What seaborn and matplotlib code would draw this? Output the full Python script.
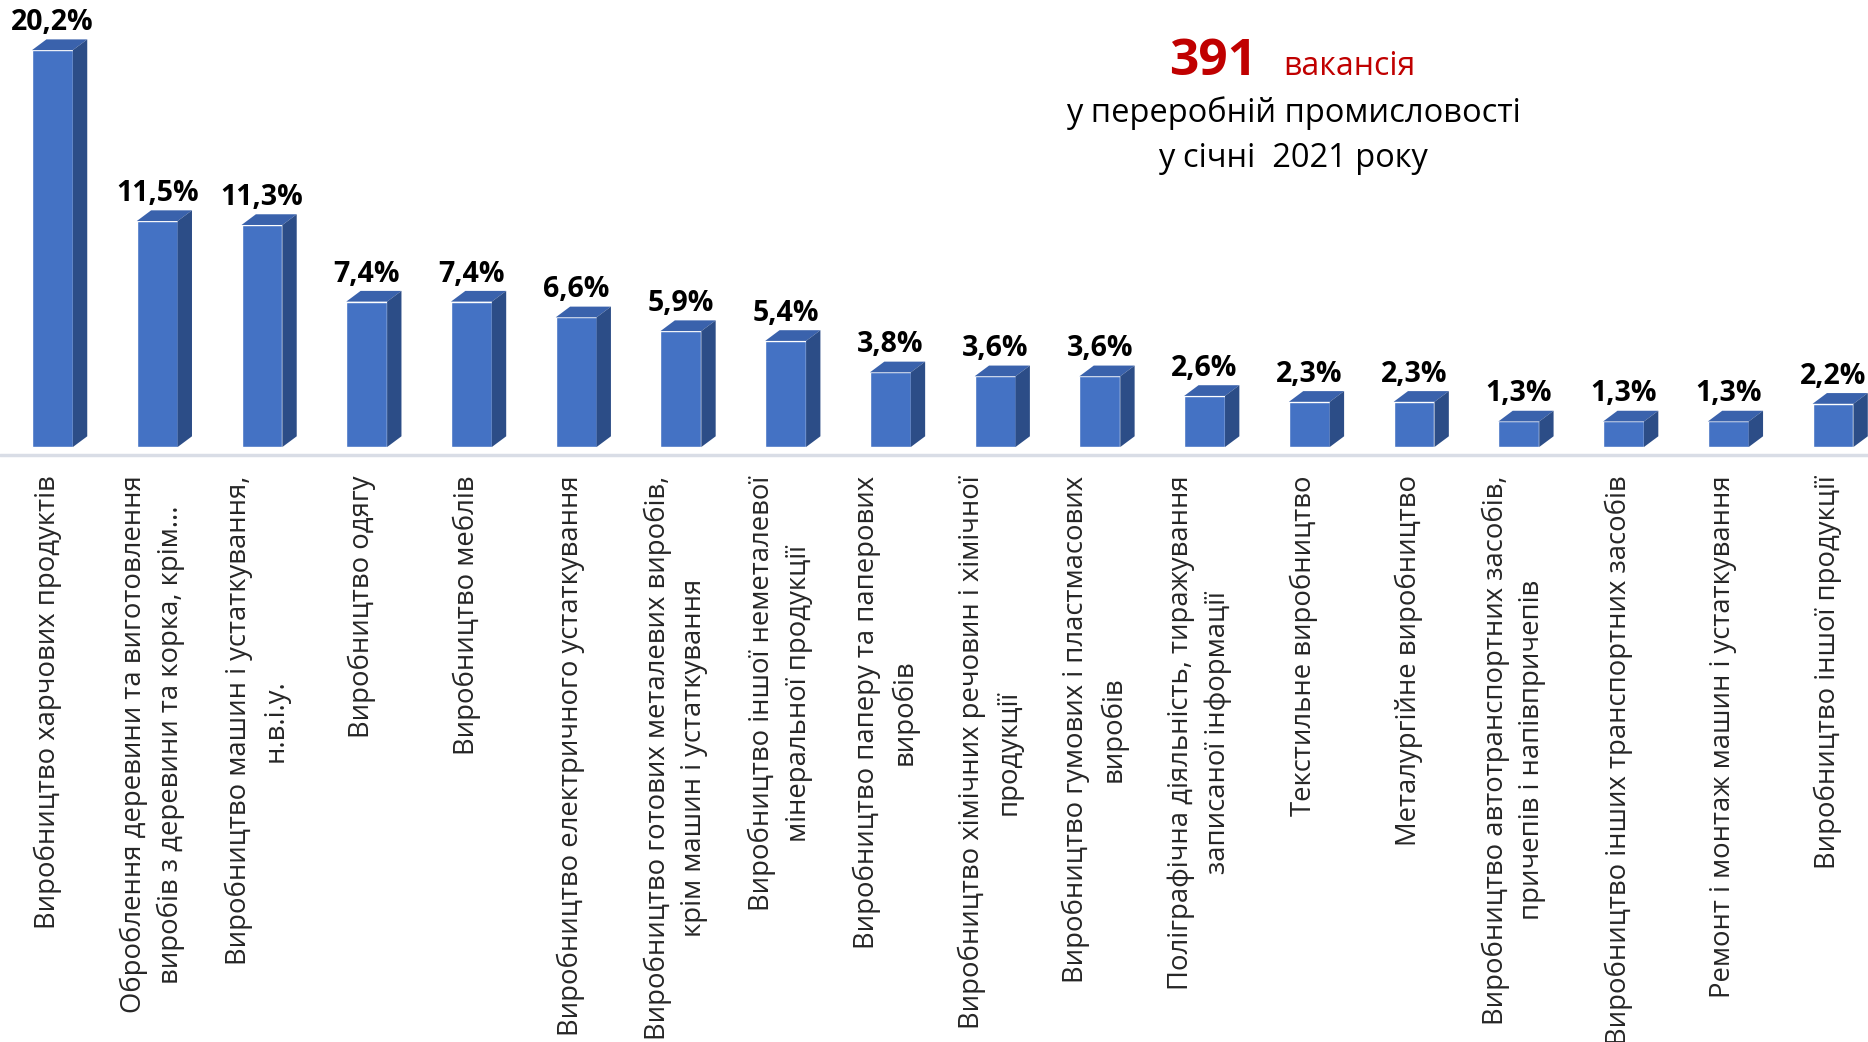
import matplotlib
matplotlib.use("Agg")
import matplotlib.pyplot as plt
import matplotlib.transforms as mtransforms
from matplotlib.patches import Polygon
import seaborn as sns
import pandas as pd

categories = [
    "Виробництво харчових продуктів",
    "Оброблення деревини та виготовлення\nвиробів з деревини та корка, крім...",
    "Виробництво машин і устаткування,\nн.в.і.у.",
    "Виробництво одягу",
    "Виробництво меблів",
    "Виробництво електричного устаткування",
    "Виробництво готових металевих виробів,\nкрім машин і устаткування",
    "Виробництво іншої неметалевої\nмінеральної продукції",
    "Виробництво паперу та паперових\nвиробів",
    "Виробництво хімічних речовин і хімічної\nпродукції",
    "Виробництво гумових і пластмасових\nвиробів",
    "Поліграфічна діяльність, тиражування\nзаписаної інформації",
    "Текстильне виробництво",
    "Металургійне виробництво",
    "Виробництво автотранспортних засобів,\nпричепів і напівпричепів",
    "Виробництво інших транспортних засобів",
    "Ремонт і монтаж машин і устаткування",
    "Виробництво іншої продукції",
]
values = [20.2, 11.5, 11.3, 7.4, 7.4, 6.6, 5.9, 5.4, 3.8, 3.6, 3.6, 2.6, 2.3, 2.3, 1.3, 1.3, 1.3, 2.2]
value_labels = [f"{v:.1f}%".replace(".", ",") for v in values]

total = "391"
title_word = "вакансія"
subtitle = "у переробній промисловості\nу січні  2021 року"

sns.set_style("white")
plt.rcParams['font.family'] = ['Open Sans', 'DejaVu Sans']

W, H = 1868, 1042
fig = plt.figure(figsize=(W / 100, H / 100), dpi=100)
base_px = 458.8
ax = fig.add_axes([0, (H - base_px) / H, 1, base_px / H])

df = pd.DataFrame({"cat": categories, "val": values})
front = "#4472C4"
top_c = "#3A62AC"
side_c = "#2C4D87"
sns.barplot(data=df, x="cat", y="val", color=front, saturation=1, width=0.39, ax=ax)

# fake 3D: top and side faces on each bar
dx, dy = 0.137, 0.545
for p, lab in zip(ax.patches, value_labels):
    x0 = p.get_x()
    x1 = x0 + p.get_width()
    h = p.get_height()
    ax.add_patch(Polygon([(x0, h), (x1, h), (x1 + dx, h + dy), (x0 + dx, h + dy)],
                         closed=True, facecolor=top_c, edgecolor="none", zorder=3))
    ax.add_patch(Polygon([(x1, 0), (x1 + dx, dy), (x1 + dx, h + dy), (x1, h)],
                         closed=True, facecolor=side_c, edgecolor="none", zorder=3))
    ax.text((x0 + x1) / 2, h + dy + 0.12, lab, ha="center", va="bottom",
            fontsize=20.5, fontweight="bold", color="black")

ax.axhline(-0.4, color="#D9DDE6", lw=2.5, zorder=1)
ax.set_xlim(-0.501, 17.334)
ax.set_ylim(-0.6, 22.75)
ax.set_xlabel("")
ax.set_ylabel("")
ax.set_yticks([])
ax.tick_params(axis="x", length=0, pad=12)
ax.set_xticks(range(len(categories)))
ax.set_xticklabels(categories, rotation=90, fontsize=19.8, va="top", ha="center",
                   multialignment="center", linespacing=1.42)
shift = mtransforms.ScaledTranslation(-5 / 100, 0, fig.dpi_scale_trans)
for t in ax.get_xticklabels():
    t.set_transform(t.get_transform() + shift)
sns.despine(ax=ax, left=True, bottom=True)

fig.text(1257 / W, 1 - 75 / H, total, ha="right", va="baseline", fontsize=37,
         fontweight="bold", color="#C00000")
fig.text(1283 / W, 1 - 75 / H, title_word, ha="left", va="baseline", fontsize=23,
         color="#C00000")
fig.text(1293 / W, 1 - 122 / H, subtitle.split("\n")[0], ha="center", va="baseline",
         fontsize=23.5, color="black")
fig.text(1293 / W, 1 - 167 / H, subtitle.split("\n")[1], ha="center", va="baseline",
         fontsize=23.5, color="black")

fig.savefig("out.png", dpi=100)
